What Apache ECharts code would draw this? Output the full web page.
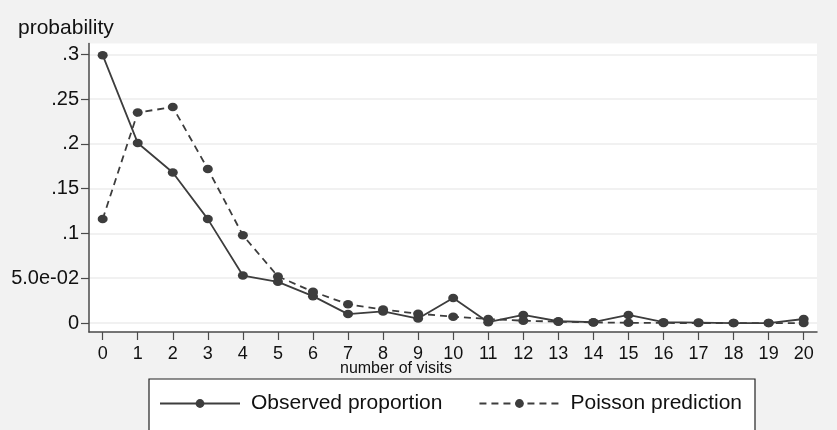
<!DOCTYPE html>
<html>
<head>
<meta charset="utf-8">
<script src="https://cdn.jsdelivr.net/npm/echarts@6/dist/echarts.min.js"></script>
<style>
  html, body { margin: 0; padding: 0; background: #f2f2f2; }
  #chart { width: 837px; height: 430px; }
</style>
</head>
<body>
<div id="chart"></div>
<script>
// number of doctor visits, observed vs Poisson-predicted probabilities
const visits = [0, 1, 2, 3, 4, 5, 6, 7, 8, 9, 10, 11, 12, 13, 14, 15, 16, 17, 18, 19, 20];
const observed = [0.299, 0.201, 0.168, 0.116, 0.053, 0.046, 0.030, 0.010, 0.013, 0.005, 0.028, 0.001,
                  0.009, 0.002, 0.001, 0.009, 0.001, 0.0005, 0, 0, 0.0045];
const poisson = [0.116, 0.235, 0.241, 0.172, 0.098, 0.052, 0.035, 0.021, 0.015, 0.0105, 0.007, 0.0045,
                 0.0026, 0.0015, 0.0007, 0.0003, 0.0001, 0, 0, 0, 0];
const yTickValues = [0, 0.05, 0.1, 0.15, 0.2, 0.25, 0.3];
const yTickLabels = ['0', '5.0e-02', '.1', '.15', '.2', '.25', '.3'];
const seriesNames = ['Observed proportion', 'Poisson prediction'];

const ink = '#3d3d3d';
const font = '"Liberation Sans", Arial, Helvetica, sans-serif';

const chart = echarts.init(document.getElementById('chart'), null, { renderer: 'canvas' });

chart.setOption({
  backgroundColor: '#f2f2f2',
  animation: false,
  textStyle: { fontFamily: font },
  title: {
    text: 'probability',
    left: 13,
    top: 13,
    textStyle: { fontSize: 21, fontWeight: 'normal', color: '#111', fontFamily: font }
  },
  grid: {
    left: 89, right: 20, top: 43.5, bottom: 98,
    show: true, backgroundColor: '#ffffff', borderWidth: 0
  },
  xAxis: {
    type: 'value',
    min: -0.39, max: 20.38,
    axisLine: { show: true, onZero: false, lineStyle: { color: '#4a4a4a', width: 1.5 } },
    axisTick: { show: true, length: 8, customValues: visits, lineStyle: { color: '#4a4a4a', width: 1.2 } },
    axisLabel: { customValues: visits, margin: 13, fontSize: 18, color: '#111', fontFamily: font },
    splitLine: { show: false }
  },
  yAxis: {
    type: 'value',
    min: -0.01, max: 0.312,
    axisLine: { show: true, onZero: false, lineStyle: { color: '#4a4a4a', width: 1.5 } },
    axisTick: { show: true, length: 8, customValues: yTickValues, lineStyle: { color: '#4a4a4a', width: 1.2 } },
    axisLabel: {
      customValues: yTickValues, margin: 10, fontSize: 20, color: '#111', fontFamily: font,
      formatter: function (v) {
        for (let i = 0; i < yTickValues.length; i++) {
          if (Math.abs(yTickValues[i] - v) < 1e-9) return yTickLabels[i];
        }
        return '';
      }
    },
    splitLine: { show: true, lineStyle: { color: '#ededed', width: 1.5 } }
  },
  legend: {
    left: 159, top: 393, padding: 0,
    itemWidth: 80, itemHeight: 11, itemGap: 36,
    textStyle: { fontSize: 21, color: '#111', fontFamily: font, padding: [0, 0, 0, 6] },
    data: seriesNames
  },
  graphic: [
    {
      type: 'rect', z: -1,
      shape: { x: 149, y: 379, width: 606, height: 70 },
      style: { fill: '#ffffff', stroke: '#222', lineWidth: 1.2 }
    },
    {
      type: 'text',
      x: 396, y: 369,
      style: { text: 'number of visits', fontSize: 16, fill: '#111', font: '16px ' + font, align: 'center', verticalAlign: 'middle' }
    }
  ],
  series: [
    {
      name: seriesNames[0], type: 'line',
      data: visits.map((v, i) => [v, observed[i]]),
      symbol: 'circle', symbolSize: [10, 8.5],
      itemStyle: { color: ink },
      lineStyle: { color: ink, width: 1.8, type: 'solid' }
    },
    {
      name: seriesNames[1], type: 'line',
      data: visits.map((v, i) => [v, poisson[i]]),
      symbol: 'circle', symbolSize: [10, 8.5],
      itemStyle: { color: ink },
      lineStyle: { color: ink, width: 1.8, type: [7, 5] }
    }
  ]
});
</script>
</body>
</html>
